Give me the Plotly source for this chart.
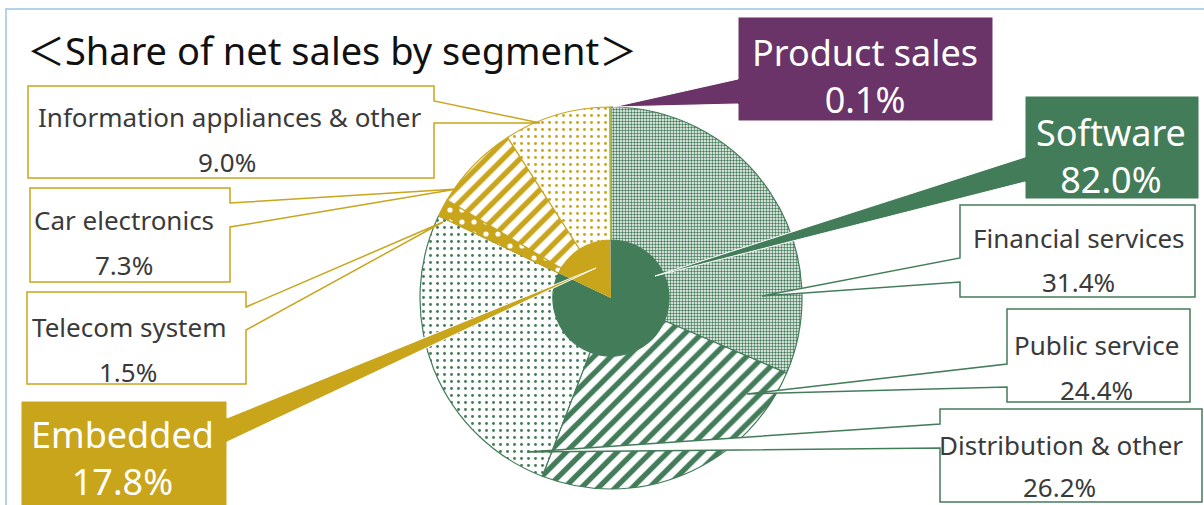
import plotly.graph_objects as go

W, H = 1204, 505

# ---------------- data ----------------
outer_labels = ["Financial services", "Public service", "Distribution & other",
                "Telecom system", "Car electronics", "Information appliances & other",
                "Product sales"]
outer_values = [31.4, 24.4, 26.2, 1.5, 7.3, 9.0, 0.1]
inner_labels = ["Software", "Embedded", "Product sales"]
inner_values = [82.0, 17.8, 0.1]
title_text = "＜Share of net sales by segment＞"

GREEN = "#437C59"
GOLD = "#C9A51C"
PURPLE = "#6A3468"
BLUE = "#4472C4"
OLIVE = "#A8B94E"
TXT = "#3A3A3A"

def px(x):
    return x / W

def py(y):
    return 1 - y / H

# pie geometry (pixels)
CX, CY, R_OUT, R_IN = 611, 298, 191, 58

fig = go.Figure()

fig.add_trace(go.Pie(
    labels=outer_labels, values=outer_values, sort=False, direction="clockwise",
    rotation=0, hole=R_IN / R_OUT, textinfo="none", hoverinfo="none",
    showlegend=False,
    domain=dict(x=[px(CX - R_OUT), px(CX + R_OUT)], y=[py(CY + R_OUT), py(CY - R_OUT)]),
    marker=dict(
        colors=[GREEN, GREEN, GREEN, GOLD, GOLD, GOLD, OLIVE],
        line=dict(color=[GREEN, GREEN, GREEN, GOLD, GOLD, GOLD, OLIVE], width=1.2),
        pattern=dict(
            shape=[".", "/", ".", ".", "/", ".", ""],
            fgcolor=[GREEN, GREEN, GREEN, "white", GOLD, GOLD, OLIVE],
            bgcolor=["white", "white", "white", GOLD, "white", "white", OLIVE],
            size=[3, 12, 7, 12, 12, 7, 8],
            solidity=[0.5, 0.45, 0.14, 0.15, 0.45, 0.14, 0.5],
            fillmode="replace",
        ),
    ),
))

fig.add_trace(go.Pie(
    labels=inner_labels, values=inner_values, sort=False, direction="clockwise",
    rotation=0, textinfo="none", hoverinfo="none", showlegend=False,
    domain=dict(x=[px(CX - R_IN), px(CX + R_IN)], y=[py(CY + R_IN), py(CY - R_IN)]),
    marker=dict(colors=[GREEN, GOLD, BLUE], line=dict(width=0)),
))

shapes = []

def path(points):
    return "M " + " L ".join(f"{px(x):.5f},{py(y):.5f}" for x, y in points) + " Z"

def callout(box, t1, t2, tip, side, fill, line, lw):
    x0, y0, x1, y1 = box
    if side == "left":
        pts = [(x0, y0), (x1, y0), (x1, y1), (x0, y1), (x0, t2), tip, (x0, t1)]
    else:
        pts = [(x0, y0), (x1, y0), (x1, t1), tip, (x1, t2), (x1, y1), (x0, y1)]
    shapes.append(dict(type="path", xref="paper", yref="paper", path=path(pts),
                       fillcolor=fill, line=dict(color=line, width=lw), layer="above"))

# chart border
shapes.append(dict(type="rect", xref="paper", yref="paper",
                   x0=px(6), y0=py(512), x1=px(1212), y1=py(9),
                   line=dict(color="#9DC3E6", width=1.5), fillcolor="rgba(0,0,0,0)",
                   layer="below"))

# white callouts (left boxes, tail on right side)
callout((28, 86, 434, 178), 101, 123, (540, 123), "right", "white", GOLD, 1.5)
callout((30, 188, 230, 282), 203, 227, (457, 189), "right", "white", GOLD, 1.5)
callout((27, 292, 246, 384), 307, 330, (443, 222), "right", "white", GOLD, 1.5)
# white callouts (right boxes, tail on left side)
callout((960, 205, 1195, 297), 258, 282, (762, 296), "left", "white", GREEN, 1.5)
callout((1007, 309, 1190, 402), 364, 387, (747, 394), "left", "white", GREEN, 1.5)
callout((940, 409, 1202, 502), 424, 448, (527, 452), "left", "white", GREEN, 1.5)
# filled callouts
callout((738, 17, 993, 121), 79, 104, (613, 107), "left", PURPLE, "white", 1)
callout((1025, 96, 1199, 199), 157, 182, (655, 276), "left", GREEN, "white", 1)
callout((21, 401, 227, 512), 418, 442, (596, 268), "right", GOLD, "white", 1)

annotations = []
FONT = "Noto Sans, Noto Sans CJK JP"

def txt(x, y, s, size, color, anchor="center"):
    annotations.append(dict(x=px(x), y=py(y), xref="paper", yref="paper", text=s,
                            showarrow=False, xanchor=anchor, yanchor="middle",
                            font=dict(size=size, color=color, family=FONT)))

txt(25, 50, title_text, 38, "#111111", anchor="left")

small = 26
# left boxes
txt(229, 117, outer_labels[5], small, TXT)
txt(227, 162, f"{outer_values[5]:.1f}%", small, TXT)
txt(124, 220, outer_labels[4], small, TXT)
txt(124, 265, f"{outer_values[4]:.1f}%", small, TXT)
txt(129, 327, outer_labels[3], small, TXT)
txt(128, 372, f"{outer_values[3]:.1f}%", small, TXT)
# right boxes
txt(1079, 238, outer_labels[0], small, TXT)
txt(1078, 282, f"{outer_values[0]:.1f}%", small, TXT)
txt(1096, 345, outer_labels[1], small, TXT)
txt(1096, 390, f"{outer_values[1]:.1f}%", small, TXT)
txt(1061, 445, outer_labels[2], small, TXT)
txt(1059, 487, f"{outer_values[2]:.1f}%", small, TXT)

big = 36
txt(865, 76, f"{inner_labels[2]}<br>{inner_values[2]:.1f}%", big, "white")
txt(1111, 156, f"{inner_labels[0]}<br>{inner_values[0]:.1f}%", big, "white")
txt(122, 458, f"{inner_labels[1]}<br>{inner_values[1]:.1f}%", big, "white")

fig.update_layout(
    width=W, height=H, margin=dict(l=0, r=0, t=0, b=0),
    paper_bgcolor="white", plot_bgcolor="white",
    shapes=shapes, annotations=annotations, showlegend=False,
)

fig.write_html("out.html")
